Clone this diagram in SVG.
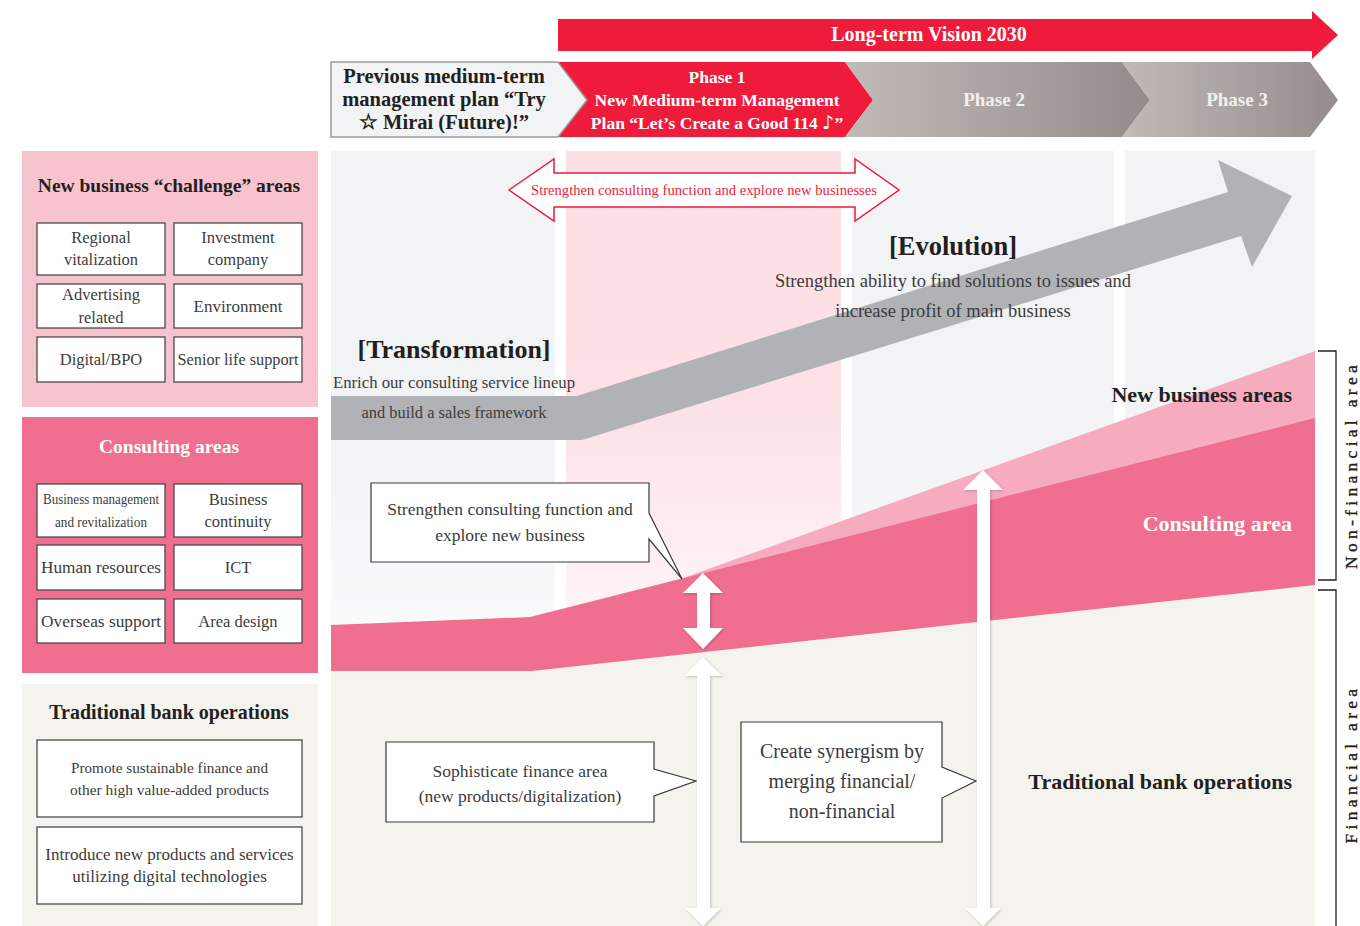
<svg xmlns="http://www.w3.org/2000/svg" width="1360" height="926" viewBox="0 0 1360 926">
<defs>
<style>
text{font-family:"Liberation Serif","Times New Roman",serif;}
.t{fill:#231F20;font-weight:bold;}
.b{fill:#3C3C3C;font-size:16.5px;text-anchor:middle;}
.w{fill:#FFFFFF;font-weight:bold;}
.box{fill:#FFFFFF;stroke:#4A4A4A;stroke-width:1.3;}
.call{fill:#FFFFFF;stroke:#3A3A3A;stroke-width:1.2;}
.warrow{fill:#FFFFFF;filter:url(#sh);}
.mid{text-anchor:middle;}
.end{text-anchor:end;}
.vert{fill:#231F20;font-size:17.5px;letter-spacing:4.3px;text-anchor:middle;stroke:#231F20;stroke-width:0.35;}
</style>
<linearGradient id="gcol" gradientUnits="userSpaceOnUse" x1="0" y1="151" x2="0" y2="680">
<stop offset="0" stop-color="#F2F3F5"/><stop offset="0.55" stop-color="#F2F3F5"/><stop offset="1" stop-color="#FCFCFD"/>
</linearGradient>
<linearGradient id="gpink" gradientUnits="userSpaceOnUse" x1="0" y1="151" x2="0" y2="660">
<stop offset="0" stop-color="#FCE0E6"/><stop offset="0.5" stop-color="#FCE1E7"/><stop offset="1" stop-color="#FEF8F9"/>
</linearGradient>
<linearGradient id="gph" x1="0" y1="0" x2="1" y2="0">
<stop offset="0" stop-color="#C2BAB7"/><stop offset="1" stop-color="#948C8B"/>
</linearGradient>
<filter id="sh" x="-50%" y="-5%" width="200%" height="110%">
<feDropShadow dx="1" dy="1" stdDeviation="1.5" flood-color="#000" flood-opacity="0.22"/>
</filter>
</defs>

<!-- header -->
<g id="vision">
<polygon points="558,19 1312,19 1312,11 1338,35 1312,59 1312,51 558,51" fill="#EE1B3A"/>
<text x="929" y="41" class="w mid" font-size="20">Long-term Vision 2030</text>
</g>
<g id="phase1">
<polygon points="556,62 845,62 873,100 845,137 556,137" fill="#EE1B3A"/>
<text x="717" y="83" class="w mid" font-size="17.5">Phase 1</text>
<text x="717" y="106" class="w mid" font-size="17.5">New Medium-term Management</text>
<text x="717" y="129" class="w mid" font-size="17.5">Plan “Let’s Create a Good 114 <tspan font-family="'DejaVu Sans',sans-serif" font-size="19" font-weight="normal">♪</tspan>”</text>
</g>
<g id="previous">
<polygon points="331,62 558,62 587,100 558,137 331,137" fill="#F2F3F5" stroke="#9A9A9A" stroke-width="1.5"/>
<text x="444" y="83" class="t mid" font-size="20.5">Previous medium-term</text>
<text x="444" y="106" class="t mid" font-size="20.5">management plan “Try</text>
<text x="444" y="129" class="t mid" font-size="20.5">☆ Mirai (Future)!”</text>
</g>
<g id="phase2">
<polygon points="845,62 1122,62 1150,100 1122,137 845,137 873,100" fill="url(#gph)"/>
<text x="994" y="106" class="mid" font-size="19" font-weight="bold" fill="#F2F0EF">Phase 2</text>
</g>
<g id="phase3">
<polygon points="1122,62 1310,62 1338,100 1310,137 1122,137 1150,100" fill="url(#gph)"/>
<text x="1237" y="106" class="mid" font-size="19" font-weight="bold" fill="#F2F0EF">Phase 3</text>
</g>

<!-- main background -->
<g id="background">
<rect x="331" y="151" width="224" height="530" fill="url(#gcol)"/>
<rect x="566" y="151" width="275" height="530" fill="url(#gpink)"/>
<rect x="852" y="151" width="262" height="530" fill="url(#gcol)"/>
<rect x="1125" y="151" width="190" height="530" fill="url(#gcol)"/>
<polygon points="331,671 532,671 1315,585 1315,926 331,926" fill="#F4F3EE"/>
</g>
<g id="new-business-band">
<polygon points="683,578 1315,351 1315,420 683,579" fill="#F6ABBF"/>
</g>
<g id="consulting-band">
<polygon points="331,625 530,617 1315,418 1315,585 532,671 331,671" fill="#F06E8F"/>
</g>
<g id="growth-arrow">
<polygon points="331,396 577,396 1228,192 1218,160 1292,196 1252,267 1241,236 582,440 331,440" fill="#B1B2B5"/>
</g>

<g id="strengthen-arrow">
<polygon points="509,190 554,159 554,173 855,173 855,159 899,190 855,221 855,207 554,207 554,221" fill="#FFFFFF" stroke="#EE1B3A" stroke-width="1.5"/>
<text x="704" y="195" class="mid" font-size="14.5" fill="#EE1B3A" textLength="346" lengthAdjust="spacingAndGlyphs">Strengthen consulting function and explore new businesses</text>
</g>

<g id="transformation">
<text x="454" y="358" class="t mid" font-size="26">[Transformation]</text>
<text x="454" y="388" class="mid" font-size="16.5" fill="#3C3C3C" textLength="242" lengthAdjust="spacingAndGlyphs">Enrich our consulting service lineup</text>
<text x="454" y="418" class="mid" font-size="16.5" fill="#3C3C3C" textLength="185" lengthAdjust="spacingAndGlyphs">and build a sales framework</text>
</g>
<g id="evolution">
<text x="953" y="255" class="t mid" font-size="26.5">[Evolution]</text>
<text x="953" y="287" class="mid" font-size="18.5" fill="#3C3C3C">Strengthen ability to find solutions to issues and</text>
<text x="953" y="317" class="mid" font-size="18.5" fill="#3C3C3C">increase profit of main business</text>
</g>

<g id="area-labels">
<text x="1292" y="402" class="t end" font-size="22">New business areas</text>
<text x="1292" y="531" class="w end" font-size="22">Consulting area</text>
<text x="1292" y="789" class="t end" font-size="22">Traditional bank operations</text>
</g>

<g id="brackets" fill="none" stroke="#231F20" stroke-width="1.3">
<path d="M1318,351 H1336 V580 H1318"/>
<path d="M1318,590 H1336 V926"/>
</g>
<g id="side-labels">
<text x="1357" y="465" transform="rotate(-90 1357 465)" class="vert">Non-financial area</text>
<text x="1357" y="764" transform="rotate(-90 1357 764)" class="vert">Financial area</text>
</g>

<!-- callouts -->
<g id="callout-consulting">
<path class="call" d="M371,483 H649 V513 L682,579 L649,539 V562 H371 Z"/>
<text x="510" y="515" class="b" style="font-size:17.5px">Strengthen consulting function and</text>
<text x="510" y="541" class="b" style="font-size:17.5px">explore new business</text>
</g>
<g id="callout-finance">
<path class="call" d="M386,742 H654 V769 L696,781 L654,796 V822 H386 Z"/>
<text x="520" y="777" class="b" style="font-size:17.5px">Sophisticate finance area</text>
<text x="520" y="802" class="b" style="font-size:17.5px">(new products/digitalization)</text>
</g>
<g id="callout-synergy">
<path class="call" d="M741,722 H942 V767 L976,781 L942,798 V842 H741 Z"/>
<text x="842" y="758" class="b" style="font-size:20px">Create synergism by</text>
<text x="842" y="788" class="b" style="font-size:20px">merging financial/</text>
<text x="842" y="818" class="b" style="font-size:20px">non-financial</text>
</g>

<!-- connectors: white arrows -->
<g id="connectors">
<polygon class="warrow" points="703,573 683,593 697,593 697,628 683,628 703,649 723,628 710,628 710,593 723,593"/>
<polygon class="warrow" points="703,657 684,676 697,676 697,908 685,908 703,926 721,908 710,908 710,676 722,676"/>
<polygon class="warrow" points="983,470 963,490 977,490 977,908 965,908 983,926 1001,908 990,908 990,490 1003,490"/>
</g>

<!-- left panels -->
<g id="panel-new-business">
<rect x="22" y="151" width="296" height="256" fill="#F7C3CF"/>
<text x="169" y="192" class="t mid" font-size="19.5">New business “challenge” areas</text>
</g>
<g id="nb-regional"><rect class="box" x="37" y="223" width="128" height="52"/><text x="101" y="243" class="b">Regional</text><text x="101" y="265" class="b">vitalization</text></g>
<g id="nb-investment"><rect class="box" x="174" y="223" width="128" height="52"/><text x="238" y="243" class="b">Investment</text><text x="238" y="265" class="b">company</text></g>
<g id="nb-advertising"><rect class="box" x="37" y="284" width="128" height="44"/><text x="101" y="300" class="b">Advertising</text><text x="101" y="323" class="b">related</text></g>
<g id="nb-environment"><rect class="box" x="174" y="284" width="128" height="44"/><text x="238" y="312" class="b" style="font-size:17px">Environment</text></g>
<g id="nb-digital"><rect class="box" x="37" y="337" width="128" height="45"/><text x="101" y="365" class="b">Digital/BPO</text></g>
<g id="nb-senior"><rect class="box" x="174" y="337" width="128" height="45"/><text x="238" y="365" class="b" textLength="121" lengthAdjust="spacingAndGlyphs">Senior life support</text></g>

<g id="panel-consulting">
<rect x="22" y="417" width="296" height="256" fill="#F06E8F"/>
<text x="169" y="453" class="w mid" font-size="19.5">Consulting areas</text>
</g>
<g id="c-business-mgmt"><rect class="box" x="37" y="484" width="128" height="53"/><text x="101" y="504" class="b" style="font-size:14px" textLength="116" lengthAdjust="spacingAndGlyphs">Business management</text><text x="101" y="527" class="b" style="font-size:14px" textLength="92" lengthAdjust="spacingAndGlyphs">and revitalization</text></g>
<g id="c-continuity"><rect class="box" x="174" y="484" width="128" height="53"/><text x="238" y="505" class="b">Business</text><text x="238" y="527" class="b">continuity</text></g>
<g id="c-human"><rect class="box" x="37" y="545" width="128" height="45"/><text x="101" y="573" class="b" textLength="120" lengthAdjust="spacingAndGlyphs">Human resources</text></g>
<g id="c-ict"><rect class="box" x="174" y="545" width="128" height="45"/><text x="238" y="573" class="b">ICT</text></g>
<g id="c-overseas"><rect class="box" x="37" y="599" width="128" height="44"/><text x="101" y="627" class="b" textLength="120" lengthAdjust="spacingAndGlyphs">Overseas support</text></g>
<g id="c-area-design"><rect class="box" x="174" y="599" width="128" height="44"/><text x="238" y="627" class="b">Area design</text></g>

<g id="panel-traditional">
<rect x="22" y="684" width="296" height="242" fill="#F4F3EE"/>
<text x="169" y="719" class="t mid" font-size="20">Traditional bank operations</text>
</g>
<g id="t-sustainable"><rect class="box" x="37" y="740" width="265" height="77"/><text x="169.5" y="773" class="b" style="font-size:15px" textLength="197" lengthAdjust="spacingAndGlyphs">Promote sustainable finance and</text><text x="169.5" y="795" class="b" style="font-size:15px" textLength="199" lengthAdjust="spacingAndGlyphs">other high value-added products</text></g>
<g id="t-digital"><rect class="box" x="37" y="827" width="265" height="77"/><text x="169.5" y="860" class="b" style="font-size:17px">Introduce new products and services</text><text x="169.5" y="882" class="b" style="font-size:17px">utilizing digital technologies</text></g>
</svg>
